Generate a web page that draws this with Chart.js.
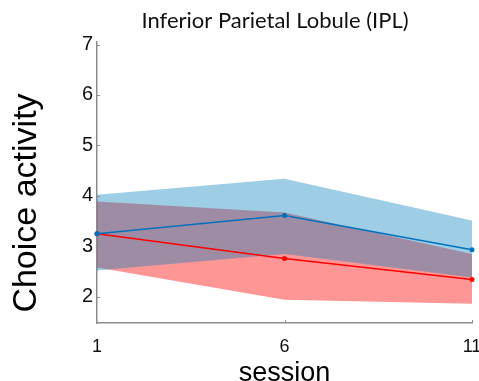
<!DOCTYPE html>
<html>
<head>
<meta charset="utf-8">
<script src="https://cdn.jsdelivr.net/npm/chart.js@4.4.1/dist/chart.umd.min.js"></script>
<style>
  html, body { margin: 0; padding: 0; background: #fff; }
  #wrap { width: 479px; height: 381px; }
</style>
</head>
<body>
<div id="wrap"><canvas id="iplChart"></canvas></div>
<script>
// data
var sesi = ['1', '6', '11'];
var yTicks = [2, 3, 4, 5, 6, 7];

var biruMean  = [3.25, 3.61, 2.93];
var biruAtas  = [4.02, 4.34, 3.51];
var biruBawah = [2.52, 2.85, 2.38];

var merahMean  = [3.25, 2.76, 2.34];
var merahAtas  = [3.89, 3.67, 2.85];
var merahBawah = [2.58, 1.94, 1.86];

var judul = 'Inferior Parietal Lobule (IPL)';
var judulY = 'Choice activity';

// plugin kecil: judul, label sumbu y dan tick kecil ke dalam
var teksPlugin = {
    id: 'teksPlugin',
    afterDraw: function (chart) {
        var ctx = chart.ctx;
        var x = chart.scales.x, y = chart.scales.y;
        ctx.save();

        // tick kecil ke arah dalam
        ctx.strokeStyle = '#8c8c8c';
        ctx.lineWidth = 1;
        ctx.beginPath();
        yTicks.forEach(function (v) {
            var py = Math.round(y.getPixelForValue(v)) + 0.5;
            ctx.moveTo(x.left, py);
            ctx.lineTo(x.left + 3, py);
        });
        for (var i = 1; i < sesi.length; i++) {
            var px = Math.round(x.getPixelForValue(i)) + 0.5;
            ctx.moveTo(px, y.bottom);
            ctx.lineTo(px, y.bottom - 3);
        }
        ctx.stroke();

        // judul
        ctx.font = '22px Lato, "Open Sans", sans-serif';
        ctx.fillStyle = '#111';
        ctx.textAlign = 'center';
        ctx.textBaseline = 'middle';
        ctx.fillText(judul, 275, 21);

        // label sumbu y
        ctx.translate(26.5, 203);
        ctx.rotate(-Math.PI / 2);
        ctx.font = '34px "Liberation Sans", Arial, sans-serif';
        ctx.fillStyle = '#000';
        ctx.fillText(judulY, 0, 0);
        ctx.restore();
    }
};

function bandSet(data, warna, fillTarget) {
    return {
        data: data,
        borderWidth: 0,
        pointRadius: 0,
        backgroundColor: warna,
        fill: fillTarget
    };
}

function garisSet(data, warna) {
    return {
        data: data,
        borderColor: warna,
        backgroundColor: warna,
        borderWidth: 1.5,
        pointRadius: 2.5,
        pointBorderWidth: 0,
        fill: false
    };
}

var ctx = document.getElementById('iplChart').getContext('2d');
var myChart = new Chart(ctx, {
    type: 'line',
    data: {
        labels: sesi,
        datasets: [
            bandSet(biruAtas, 'rgba(0,124,189,0.38)', '+1'),
            bandSet(biruBawah, 'rgba(0,0,0,0)', false),
            bandSet(merahAtas, 'rgba(255,0,0,0.41)', '+1'),
            bandSet(merahBawah, 'rgba(0,0,0,0)', false),
            garisSet(biruMean, '#0072BD'),
            garisSet(merahMean, '#FF0000')
        ]
    },
    options: {
        responsive: true,
        maintainAspectRatio: false,
        animation: false,
        layout: { padding: { top: 42, right: 7, left: 0, bottom: 0 } },
        plugins: {
            legend: { display: false },
            tooltip: { enabled: false },
            filler: { drawTime: 'beforeDatasetsDraw' }
        },
        scales: {
            x: {
                offset: false,
                afterFit: function (scale) {
                    scale.height = 58;
                    scale.paddingLeft = 0;
                    scale.paddingRight = 0;
                },
                grid: { display: false, drawTicks: false },
                border: { color: '#8c8c8c', width: 1.5 },
                ticks: { color: '#111', font: { family: 'Liberation Sans', size: 18 }, padding: 13, maxRotation: 0 },
                title: {
                    display: true,
                    text: 'session',
                    color: '#000',
                    font: { family: '"Liberation Sans Narrow", "Liberation Sans"', size: 27 },
                    padding: { top: 0, bottom: -9 }
                }
            },
            y: {
                min: 1.48,
                max: 7.05,
                afterBuildTicks: function (scale) {
                    scale.ticks = yTicks.map(function (v) { return { value: v }; });
                },
                afterFit: function (scale) { scale.width = 97; },
                grid: { display: false, drawTicks: false },
                border: { color: '#8c8c8c', width: 1.5 },
                ticks: { color: '#111', font: { family: 'Liberation Sans', size: 20 }, padding: 4 }
            }
        }
    },
    plugins: [teksPlugin]
});
</script>
</body>
</html>
